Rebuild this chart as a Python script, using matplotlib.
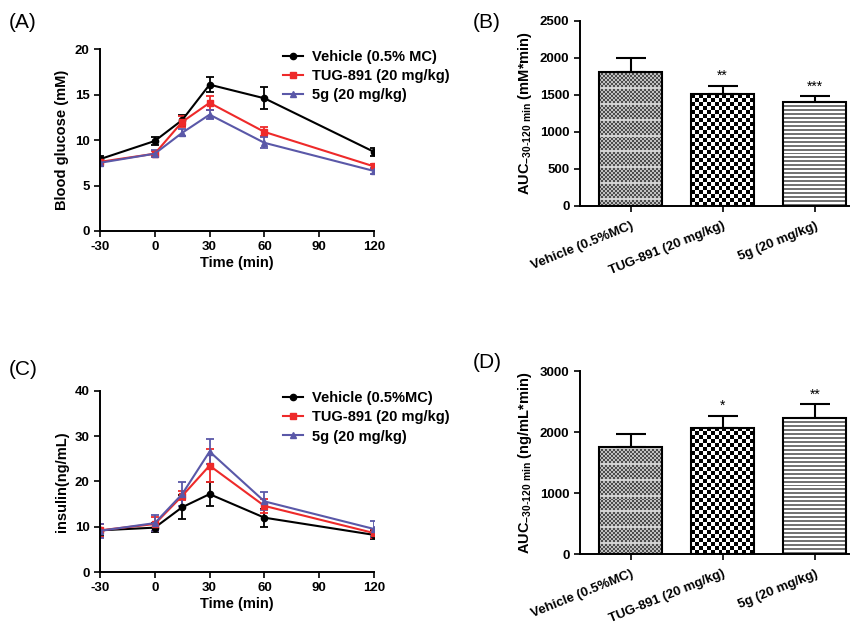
import numpy as np
import matplotlib.pyplot as plt
from matplotlib.lines import Line2D

plt.rcParams['font.family'] = ['Liberation Sans', 'DejaVu Sans']
plt.rcParams['mathtext.default'] = 'regular'
plt.rcParams['axes.unicode_minus'] = False

# time course data
time = [-30, 0, 15, 30, 60, 120]
groups = ["Vehicle (0.5% MC)", "TUG-891 (20 mg/kg)", "5g (20 mg/kg)"]
groups_c = ["Vehicle (0.5%MC)", "TUG-891 (20 mg/kg)", "5g (20 mg/kg)"]
bar_labels = ["Vehicle (0.5%MC)", "TUG-891 (20 mg/kg)", "5g (20 mg/kg)"]

glu_veh = [7.9, 9.9, 12.2, 16.1, 14.6, 8.7]
glu_veh_err = [0.3, 0.4, 0.6, 0.8, 1.2, 0.4]
glu_tug = [7.6, 8.5, 12.0, 14.1, 10.9, 7.1]
glu_tug_err = [0.3, 0.3, 0.6, 0.8, 0.5, 0.3]
glu_5g = [7.5, 8.5, 10.8, 12.8, 9.7, 6.6]
glu_5g_err = [0.3, 0.4, 0.4, 0.5, 0.6, 0.3]

ins_veh = [9.2, 9.8, 14.3, 17.2, 12.0, 8.2]
ins_veh_err = [1.3, 1.0, 2.6, 2.7, 2.0, 1.0]
ins_tug = [9.2, 10.6, 16.8, 23.5, 14.6, 8.6]
ins_tug_err = [1.5, 1.5, 1.0, 3.6, 1.5, 1.0]
ins_5g = [9.1, 10.8, 17.2, 26.6, 15.6, 9.5]
ins_5g_err = [1.5, 1.8, 2.6, 2.7, 2.0, 1.7]

auc_glu = [1814, 1512, 1408]
auc_glu_err = [185, 108, 72]
auc_glu_sig = ["", "**", "***"]
auc_ins = [1748, 2074, 2232]
auc_ins_err = [212, 191, 223]
auc_ins_sig = ["", "*", "**"]

colors = ["black", "#ee2a2a", "#5a58a8"]
markers = ["o", "s", "^"]

fig = plt.figure(figsize=(8.54, 6.31), dpi=100)


def style_axes(ax):
    for s in ["top", "right"]:
        ax.spines[s].set_visible(False)
    for s in ["left", "bottom"]:
        ax.spines[s].set_linewidth(1.4)
    ax.tick_params(width=1.2, length=4, labelsize=9.5)
    for lab in ax.get_xticklabels() + ax.get_yticklabels():
        lab.set_fontweight("bold")


def line_panel(ax, series, errs, labels, ylim, yticks, ylabel):
    handles = []
    for y, e, c, m, lab in zip(series, errs, colors, markers, labels):
        ax.errorbar(time, y, yerr=e, color=c, marker=m, markersize=4.5,
                    linewidth=1.5, elinewidth=1.3, capsize=3, capthick=1.3)
        handles.append(Line2D([], [], color=c, marker=m, markersize=4.5,
                              linewidth=1.5, label=lab))
    ax.set_xlim(-30, 120)
    ax.set_xticks([-30, 0, 30, 60, 90, 120])
    ax.set_ylim(*ylim)
    ax.set_yticks(yticks)
    ax.set_xlabel("Time (min)", fontsize=10.5, fontweight="bold", labelpad=2)
    ax.set_ylabel(ylabel, fontsize=10.5, fontweight="bold", labelpad=4)
    ax.legend(handles=handles, loc="upper left", bbox_to_anchor=(0.62, 1.07),
              frameon=False, handlelength=1.4, labelspacing=0.35,
              handletextpad=0.6, prop={"weight": "bold", "size": 10.5})
    style_axes(ax)


def pattern_fill(ax, bar, kind):
    x, y = bar.get_x(), bar.get_y()
    w, h = bar.get_width(), bar.get_height()
    p0 = ax.transData.transform((x, y))
    p1 = ax.transData.transform((x + w, y + h))
    wpx = max(int(abs(p1[0] - p0[0])), 1)
    hpx = max(int(abs(p1[1] - p0[1])), 1)
    if kind == "fine":
        cell = 2
        cols, rows = wpx // cell + 1, hpx // cell + 1
        ii, jj = np.indices((rows, cols))
        img = np.where((ii + jj) % 2 == 0, 0.3, 0.75)
        img[ii % 8 == 0] = 0.82
    elif kind == "checker":
        cell = 4
        cols, rows = wpx // cell + 1, hpx // cell + 1
        ii, jj = np.indices((rows, cols))
        img = np.where((ii + jj) % 2 == 0, 0.0, 1.0)
    else:
        cell = 2
        cols, rows = 1, hpx // cell + 1
        ii, jj = np.indices((rows, cols))
        img = np.where(ii % 2 == 0, 0.45, 1.0)
    ax.imshow(img, extent=(x, x + w, y, y + h), cmap="gray", vmin=0, vmax=1,
              aspect="auto", interpolation="nearest", zorder=1)


def bar_panel(ax, vals, errs, sig, ylim, yticks, ylabel):
    xs = np.arange(len(vals))
    ax.set_xlim(-0.55, 2.37)
    ax.set_ylim(*ylim)
    bars = ax.bar(xs, vals, width=0.68, facecolor="none", edgecolor="black",
                  linewidth=1.5, zorder=2)
    ax.errorbar(xs, vals, yerr=[np.zeros(len(vals)), errs], fmt="none",
                ecolor="black", elinewidth=1.5, capsize=11, capthick=1.5,
                zorder=3)
    for b, kind in zip(bars, ["fine", "checker", "stripes"]):
        pattern_fill(ax, b, kind)
    for x, v, e, s in zip(xs, vals, errs, sig):
        if s:
            ax.text(x, v + e + ylim[1] * 0.015, s, ha="center", va="bottom",
                    fontsize=10)
    ax.set_xlim(-0.55, 2.37)
    ax.set_ylim(*ylim)
    ax.set_yticks(yticks)
    ax.set_xticks(xs)
    ax.set_xticklabels(bar_labels, rotation=22, ha="right",
                       rotation_mode="anchor")
    ax.set_ylabel(ylabel, fontsize=10.5, fontweight="bold", labelpad=4)
    style_axes(ax)
    ax.tick_params(axis="x", labelsize=9.5, pad=6)


axA = fig.add_axes([0.117, 0.634, 0.321, 0.288])
line_panel(axA, [glu_veh, glu_tug, glu_5g], [glu_veh_err, glu_tug_err, glu_5g_err],
           groups, (0, 20), [0, 5, 10, 15, 20], "Blood glucose (mM)")

axB = fig.add_axes([0.679, 0.674, 0.315, 0.293])
bar_panel(axB, auc_glu, auc_glu_err, auc_glu_sig, (0, 2500),
          [0, 500, 1000, 1500, 2000, 2500],
          r"AUC$_{-30\text{-}120\ min}$ (mM*min)")

axC = fig.add_axes([0.117, 0.0935, 0.321, 0.287])
line_panel(axC, [ins_veh, ins_tug, ins_5g], [ins_veh_err, ins_tug_err, ins_5g_err],
           groups_c, (0, 40), [0, 10, 20, 30, 40], "insulin(ng/mL)")

axD = fig.add_axes([0.679, 0.122, 0.315, 0.29])
bar_panel(axD, auc_ins, auc_ins_err, auc_ins_sig, (0, 3000),
          [0, 1000, 2000, 3000],
          r"AUC$_{-30\text{-}120\ min}$ (ng/mL*min)")

for lab, (x, y) in zip(["(A)", "(B)", "(C)", "(D)"],
                       [(0.01, 0.965), (0.553, 0.965), (0.01, 0.415), (0.553, 0.425)]):
    fig.text(x, y, lab, fontsize=15, va="center", ha="left")

fig.savefig("out.png", dpi=100)
